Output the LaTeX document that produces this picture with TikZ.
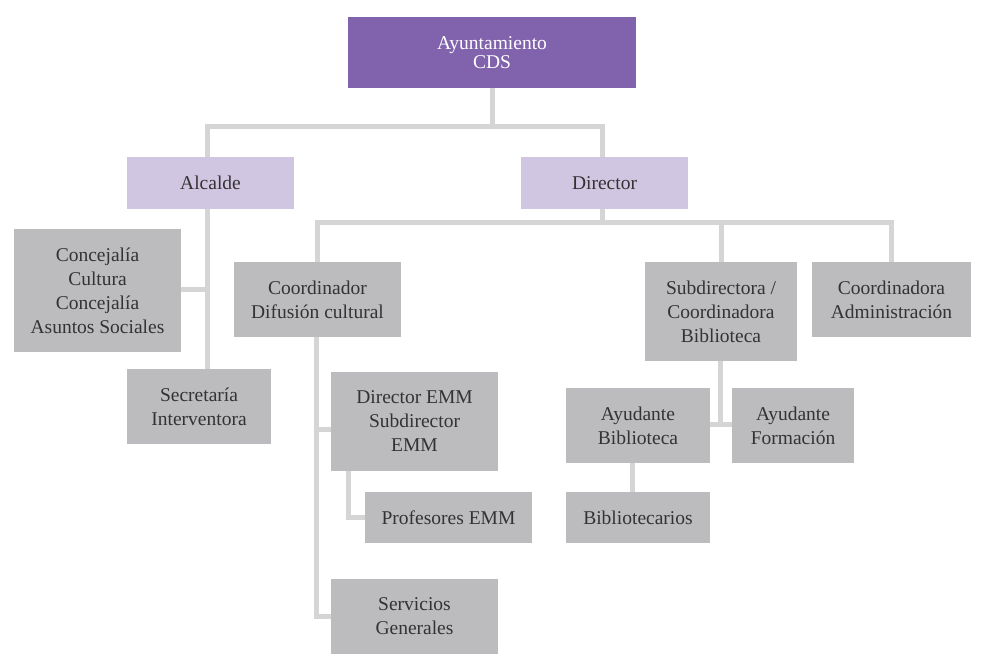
\documentclass[tikz,border=0pt]{standalone}
\usepackage{fontspec}
\setmainfont{Liberation Serif}
\definecolor{topviolet}{HTML}{8163AD}
\definecolor{lightviolet}{HTML}{D1C6E1}
\definecolor{boxgray}{HTML}{BCBCBF}
\definecolor{linkgray}{HTML}{D5D5D5}
\definecolor{txtgray}{HTML}{333333}
\begin{document}
\begin{tikzpicture}[x=1pt,y=-1pt,
  unit/.style={rectangle,inner sep=0pt,outer sep=0pt,align=center,fill=boxgray,text=txtgray,font=\fontsize{19.5}{24}\selectfont},
  head/.style={unit,fill=lightviolet},
  top/.style={unit,fill=topviolet,text=white,font=\fontsize{19.5}{19.5}\selectfont},
  link/.style={draw=linkgray,line width=5pt}]
        \useasboundingbox (0,0) rectangle (995,654);
        \coordinate (bus1) at (0,126);
        \coordinate (bus2) at (0,222);
        \node[top,minimum width=288pt,minimum height=71pt] (ayto) at (492,52.5) {Ayuntamiento\\CDS};
        \node[head,minimum width=167pt,minimum height=52pt] (alcalde) at (210.5,183) {Alcalde};
        \node[head,minimum width=167pt,minimum height=52pt] (director) at (604.5,183) {Director};
        \node[unit,minimum width=167pt,minimum height=123pt] (concejal) at (97.5,290.5) {Concejalía\\Cultura\\Concejalía\\Asuntos Sociales};
        \node[unit,minimum width=144pt,minimum height=75pt] (secret) at (199,406.5) {Secretaría\\Interventora};
        \node[unit,minimum width=167pt,minimum height=75pt] (coord) at (317.5,299.5) {Coordinador\\Difusión cultural};
        \node[unit,minimum width=167pt,minimum height=99pt] (diremm) at (414.5,421.5) {Director EMM\\Subdirector\\EMM};
        \node[unit,minimum width=167pt,minimum height=51pt] (profes) at (448.5,517.5) {Profesores EMM};
        \node[unit,minimum width=167pt,minimum height=75pt] (servic) at (414.5,616.5) {Servicios\\Generales};
        \node[unit,minimum width=152pt,minimum height=99pt] (subdir) at (721,311.5) {Subdirectora /\\Coordinadora\\Biblioteca};
        \node[unit,minimum width=159pt,minimum height=75pt] (admin) at (891.5,299.5) {Coordinadora\\Administración};
        \node[unit,minimum width=144pt,minimum height=75pt] (ayubib) at (638,425.5) {Ayudante\\Biblioteca};
        \node[unit,minimum width=122pt,minimum height=75pt] (ayufor) at (793,425.5) {Ayudante\\Formación};
        \node[unit,minimum width=144pt,minimum height=51pt] (bibliot) at (638,517.5) {Bibliotecarios};
        \coordinate (alc) at ([xshift=-3.5pt]alcalde.south);
        \coordinate (dir) at ([xshift=-2.5pt]director.south);
        \coordinate (cor) at ([xshift=-1.5pt]coord.south);
        \coordinate (sub) at ([xshift=-1pt]subdir.south);
        \coordinate (emm) at ([yshift=-7.5pt]diremm.west);
        \coordinate (ayu) at ([yshift=1.5pt]ayubib.east);
        \coordinate (con) at ([yshift=1.5pt]concejal.east);
        \draw[link] (ayto.south) -- (ayto.south |- bus1);
        \draw[link] ([xshift=-3.5pt]alcalde.north) |- (bus1 -| ayto.south) -| ([xshift=-2.5pt]director.north);
        \draw[link] (alc) -- (alc |- secret.north);
        \draw[link] (con) -- (con -| alc);
        \draw[link] (dir) -- (dir |- bus2);
        \draw[link] (coord.north) |- (bus2 -| admin.north) -- (admin.north);
        \draw[link] (subdir.north) -- (subdir.north |- bus2);
        \draw[link] (cor) |- (servic.west);
        \draw[link] (cor |- emm) -- (emm);
        \draw[link] ([xshift=17pt]diremm.south west) |- (profes.west);
        \draw[link] (sub) -- (sub |- ayu);
        \draw[link] (ayu) -- (ayu -| ayufor.west);
        \draw[link] ([xshift=-6pt]ayubib.south) -- ([xshift=-6pt]bibliot.north);
\end{tikzpicture}
\end{document}
